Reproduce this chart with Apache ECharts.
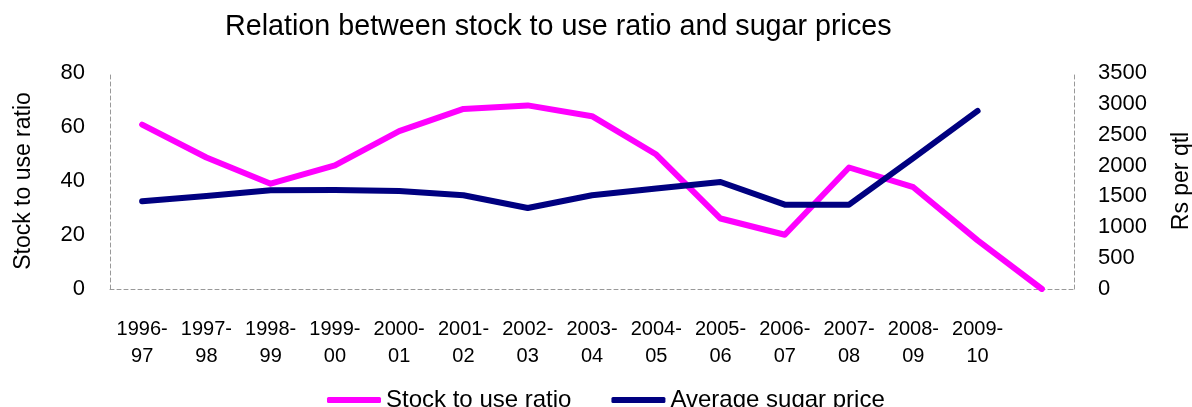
<!DOCTYPE html>
<html>
<head>
<meta charset="utf-8">
<script src="https://cdn.jsdelivr.net/npm/echarts@6/dist/echarts.min.js"></script>
<style>
html,body{margin:0;padding:0;background:#fff;}
#chart{width:1192px;height:407px;}
</style>
</head>
<body>
<div id="chart"></div>
<script>
const categories = ['1996-\n97','1997-\n98','1998-\n99','1999-\n00','2000-\n01','2001-\n02','2002-\n03','2003-\n04','2004-\n05','2005-\n06','2006-\n07','2007-\n08','2008-\n09','2009-\n10',''];
const stockToUse = [60.9, 48.7, 39.0, 45.8, 58.5, 66.7, 68.0, 64.0, 49.8, 26.1, 20.1, 45.0, 37.7, 18.0, 0];
const sugarPrice = [1421, 1507, 1599, 1604, 1588, 1518, 1313, 1518, 1627, 1734, 1367, 1367, 2120, 2885, null];
const leftTicks = {min: 0, max: 80, interval: 20};
const rightTicks = {min: 0, max: 3500, interval: 500};

const FONT = 'Liberation Sans, Arial, sans-serif';
const dashed = {show: true, lineStyle: {color: '#999', type: [4, 3], width: 1}};
const chart = echarts.init(document.getElementById('chart'), null, {renderer: 'canvas'});
chart.setOption({
  backgroundColor: '#fff',
  animation: false,
  title: {
    text: 'Relation between stock to use ratio and sugar prices',
    left: 220, top: 8,
    textStyle: {fontFamily: FONT, fontSize: 28.7, fontWeight: 'normal', color: '#000'}
  },
  legend: {
    top: 383, left: 322,
    itemWidth: 54, itemHeight: 6, itemGap: 40,
    icon: 'roundRect',
    textStyle: {fontFamily: FONT, fontSize: 24, color: '#000'},
    data: ['Stock to use ratio', 'Average sugar price']
  },
  grid: {left: 110, right: 118, top: 73, bottom: 118, containLabel: false, outerBoundsMode: 'none'},
  xAxis: {
    type: 'category',
    data: categories,
    boundaryGap: true,
    axisLine: dashed,
    axisTick: {show: false},
    axisLabel: {fontFamily: FONT, fontSize: 20, color: '#000', lineHeight: 27, margin: 27, interval: 0}
  },
  yAxis: [
    {
      type: 'value', min: leftTicks.min, max: leftTicks.max, interval: leftTicks.interval,
      name: 'Stock to use ratio', nameLocation: 'middle', nameGap: 75, nameRotate: 90,
      nameTextStyle: {fontFamily: FONT, fontSize: 23, color: '#000'},
      axisLine: dashed, axisTick: {show: false}, splitLine: {show: false},
      axisLabel: {fontFamily: FONT, fontSize: 22, color: '#000', margin: 25}
    },
    {
      type: 'value', min: rightTicks.min, max: rightTicks.max, interval: rightTicks.interval,
      name: 'Rs per qtl', nameLocation: 'middle', nameGap: 96, nameRotate: 90,
      nameTextStyle: {fontFamily: FONT, fontSize: 23, color: '#000'},
      position: 'right',
      axisLine: dashed, axisTick: {show: false}, splitLine: {show: false},
      axisLabel: {fontFamily: FONT, fontSize: 22, color: '#000', margin: 24, formatter: v => String(v)}
    }
  ],
  series: [
    {
      name: 'Stock to use ratio', type: 'line', yAxisIndex: 0,
      data: stockToUse, symbol: 'none', color: '#FF00FF',
      lineStyle: {color: '#FF00FF', width: 6, cap: 'round', join: 'round'}
    },
    {
      name: 'Average sugar price', type: 'line', yAxisIndex: 1,
      data: sugarPrice, symbol: 'none', color: '#000080',
      lineStyle: {color: '#000080', width: 6, cap: 'round', join: 'round'}
    }
  ]
});
</script>
</body>
</html>
